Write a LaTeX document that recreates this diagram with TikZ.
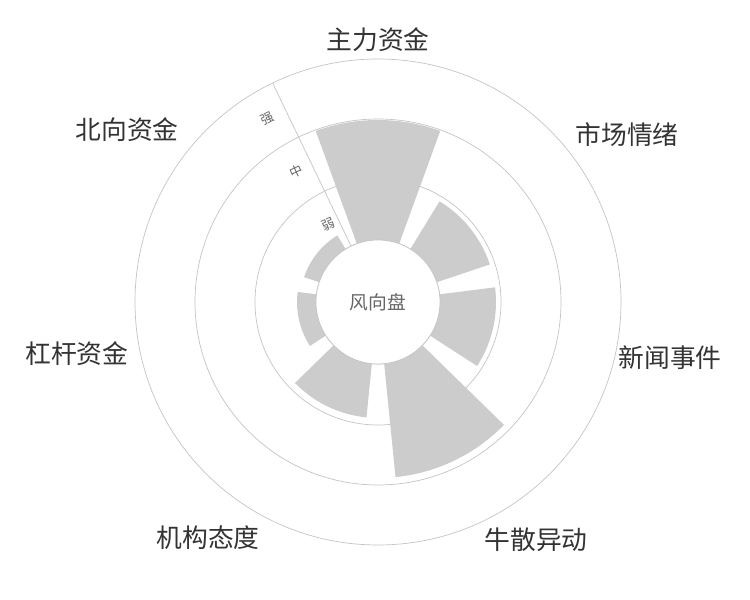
\documentclass[tikz,border=0pt]{standalone}
\usepackage{fontspec}
\setmainfont{Noto Sans CJK SC}
\definecolor{ringgray}{HTML}{C4C4C4}
\definecolor{bargray}{HTML}{CCCCCC}
\definecolor{labelgray}{HTML}{333333}
\definecolor{centergray}{HTML}{666666}
\begin{document}
\begin{tikzpicture}[x=0.03cm,y=0.03cm,
ring/.style={draw=ringgray,line width=0.6pt},
bar/.style={fill=bargray},
dimlabel/.style={font=\fontsize{22}{24}\selectfont,text=labelgray},
levellabel/.style={font=\fontsize{11}{12}\selectfont,text=centergray,rotate=25}]
\useasboundingbox (0,0) rectangle (750,600);
\coordinate (c) at (378,298);
% rings
\foreach \rad in {243,183,123,62}
  \draw[ring] (c) circle (\rad);
% bars
\foreach \ang/\len in {90/182,38.57/118,-12.86/118,-64.29/176,-115.71/116,-167.14/81,141.43/78}
  \fill[bar,shift={(c)}] (\ang-20:62) arc (\ang-20:\ang+20:62) -- (\ang+20:\len) arc (\ang+20:\ang-20:\len) -- cycle;
\draw[ring,fill=white] (c) circle (62);
% axis
\draw[ring,shift={(c)}] (115.71:62) -- (115.71:243);
\node[levellabel] (weak) at ([shift={(123:92)}]c) {弱};
\node[levellabel] (mid) at ([shift={(122:154)}]c) {中};
\node[levellabel] (strong) at ([shift={(121:214)}]c) {强};
\node[font=\fontsize{16}{17}\selectfont,text=centergray] (hub) at (c) {风向盘};
% dimension labels
\node[dimlabel] (main) at (378,560) {主力资金};
\node[dimlabel] (mood) at (627,465) {市场情绪};
\node[dimlabel] (news) at (670,242) {新闻事件};
\node[dimlabel] (bull) at (536,60) {牛散异动};
\node[dimlabel] (inst) at (208,62) {机构态度};
\node[dimlabel] (lever) at (77,246) {杠杆资金};
\node[dimlabel] (north) at (127,470) {北向资金};
\end{tikzpicture}
\end{document}
